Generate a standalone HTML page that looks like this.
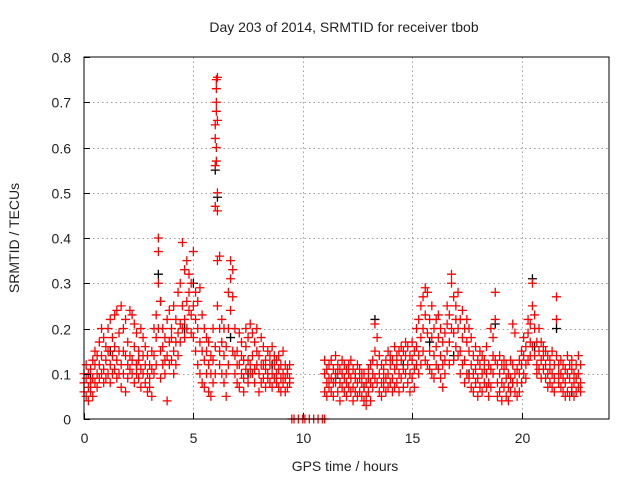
<!DOCTYPE html>
<html><head><meta charset="utf-8"><style>
body{margin:0;background:#fff}
svg{display:block;font-family:"Liberation Sans",sans-serif}
</style></head><body>
<svg id="chart" width="640" height="480" viewBox="0 0 640 480">
<rect width="640" height="480" fill="#fff"/>
<g id="grid"></g>
<g id="marks"></g>
<rect x="84" y="57" width="525" height="362" fill="none" stroke="#000" stroke-width="1"/>
<g id="ticks"></g>
<text x="344" y="32" font-size="14" text-anchor="middle" fill="#222">Day 203 of 2014, SRMTID for receiver tbob</text>
<text x="345" y="471" font-size="14" text-anchor="middle" fill="#222">GPS time / hours</text>
<text x="19" y="238" font-size="14" text-anchor="middle" fill="#222" transform="rotate(-90 19 238)">SRMTID / TECUs</text>
</svg>
<script>
const xTicks=[0,5,10,15,20];
const yTicks=[0,0.1,0.2,0.3,0.4,0.5,0.6,0.7,0.8];
const yTickLabels=["0","0.1","0.2","0.3","0.4","0.5","0.6","0.7","0.8"];
const zeroTimes=[9.5,9.6,9.8,10.0,10.1,10.3,10.5,10.7,10.9,11.0];
const blackTimes=[0.3,1.2,2.4,3.4,3.5,4.6,5.0,6.0,6.1,6.7,7.5,8.6,11.5,12.8,13.3,14.6,15.8,16.9,17.6,18.8,19.6,20.5,20.6,21.6,22.3];
const blackValues=[0.09,0.15,0.12,0.32,0.26,0.2,0.3,0.55,0.49,0.18,0.1,0.12,0.09,0.07,0.22,0.12,0.17,0.14,0.1,0.21,0.08,0.31,0.16,0.2,0.06];
const redTimes=[0.0,0.1,0.2,0.3,0.4,0.5,0.6,0.7,0.8,0.9,1.0,1.1,1.2,1.3,1.4,1.5,1.6,1.7,1.8,1.9,2.0,2.1,2.2,2.3,2.4,2.5,2.6,2.7,2.8,2.9,3.0,3.1,3.2,3.3,3.4,3.5,3.6,3.7,3.8,3.9,4.0,4.1,4.2,4.3,4.4,4.5,4.6,4.7,4.8,4.9,5.0,5.1,5.2,5.3,5.4,5.5,5.6,5.7,5.8,5.9,6.0,6.05,6.1,6.2,6.3,6.4,6.5,6.6,6.7,6.8,6.9,7.0,7.1,7.2,7.3,7.4,7.5,7.6,7.7,7.8,7.9,8.0,8.1,8.2,8.3,8.4,8.5,8.6,8.7,8.8,8.9,9.0,9.1,9.2,9.3,9.4,
11.0,11.1,11.2,11.3,11.4,11.5,11.6,11.7,11.8,11.9,12.0,12.1,12.2,12.3,12.4,12.5,12.6,12.7,12.8,12.9,13.0,13.1,13.2,13.3,13.4,13.5,13.6,13.7,13.8,13.9,14.0,14.1,14.2,14.3,14.4,14.5,14.6,14.7,14.8,14.9,15.0,15.1,15.2,15.3,15.4,15.5,15.6,15.7,15.8,15.9,16.0,16.1,16.2,16.3,16.4,16.5,16.6,16.7,16.8,16.9,17.0,17.1,17.2,17.3,17.4,17.5,17.6,17.7,17.8,17.9,18.0,18.1,18.2,18.3,18.4,18.5,18.6,18.7,18.8,18.9,19.0,19.1,19.2,19.3,19.4,19.5,19.6,19.7,19.8,19.9,20.0,20.1,20.2,20.3,20.4,20.5,20.6,20.7,20.8,20.9,21.0,21.1,21.2,21.3,21.4,21.5,21.6,21.7,21.8,21.9,22.0,22.1,22.2,22.3,22.4,22.5,22.6,22.7];
const redValues=[[.08,.06,.1],[.05,.09,.12],[.04,.1,.07],[.06,.11,.08],[.05,.13,.09],[.08,.15,.12],[.1,.14,.07],[.12,.17,.09],[.14,.2,.1],[.11,.18,.08],[.13,.16,.09],[.1,.15,.2],[.12,.22,.08],[.14,.18,.1],[.16,.23,.11],[.13,.24,.09],[.1,.19,.15],[.12,.25,.07],[.15,.2,.1],[.14,.22,.06],[.09,.17,.12],[.11,.24,.14],[.13,.23,.1],[.16,.21,.08],[.12,.19,.1],[.09,.15,.13],[.11,.2,.07],[.14,.18,.1],[.08,.16,.12],[.1,.14,.06],[.07,.12,.09],[.11,.15,.05],[.14,.2,.1],[.18,.23,.12],[.2,.37,.4,.3],[.15,.26,.09],[.12,.2,.16],[.1,.18,.13],[.14,.22,.04],[.17,.24,.12],[.2,.18,.13],[.15,.25,.1],[.12,.22,.17],[.14,.28,.19],[.17,.3,.21],[.2,.39,.25],[.22,.33,.18],[.26,.35,.2],[.24,.32,.28],[.23,.3,.19],[.25,.37,.18],[.22,.28,.15],[.2,.26,.12],[.17,.29,.1],[.15,.23,.08],[.13,.2,.07],[.15,.18,.1],[.12,.17,.06],[.1,.14,.05],[.13,.2,.08],[.56,.62,.65,.47,.16,.1],[.75,.73,.7,.68,.6,.57],[.755,.66,.5,.46,.35,.25],[.2,.12,.36,.15],[.17,.1,.22],[.14,.08,.2],[.1,.05,.16],[.2,.28,.12],[.31,.35,.24],[.33,.27,.15],[.2,.14,.1],[.15,.08,.12],[.12,.19,.07],[.1,.17,.14],[.13,.09,.06],[.16,.2,.11],[.18,.13,.08],[.12,.21,.1],[.14,.1,.19],[.17,.11,.08],[.2,.12,.15],[.1,.14,.06],[.12,.18,.08],[.09,.16,.12],[.13,.11,.07],[.1,.15,.09],[.14,.12,.08],[.1,.16,.07],[.12,.09,.14],[.08,.13,.1],[.11,.07,.14],[.12,.09,.06],[.1,.15,.08],[.09,.12,.06],[.11,.07,.1],[.08,.12,.09],
[.1,.06,.13],[.08,.11,.05],[.12,.07,.09],[.09,.13,.06],[.11,.05,.08],[.14,.08,.1],[.1,.06,.12],[.08,.11,.04],[.1,.07,.13],[.06,.09,.12],[.08,.11,.05],[.1,.07,.12],[.09,.13,.06],[.07,.11,.04],[.1,.06,.09],[.08,.12,.05],[.06,.09,.11],[.08,.05,.1],[.07,.1,.04],[.05,.08,.03],[.09,.06,.11],[.08,.04,.12],[.13,.07,.1],[.21,.15,.09],[.12,.18,.08],[.1,.14,.06],[.08,.12,.05],[.11,.07,.09],[.13,.09,.06],[.1,.15,.07],[.12,.08,.14],[.09,.13,.06],[.11,.16,.07],[.14,.08,.12],[.1,.15,.06],[.13,.09,.16],[.11,.15,.07],[.14,.1,.17],[.12,.16,.08],[.1,.14,.06],[.13,.17,.09],[.11,.15,.07],[.16,.12,.2],[.14,.22,.1],[.18,.25,.12],[.2,.27,.15],[.23,.29,.13],[.19,.28,.12],[.22,.15,.11],[.18,.1,.25],[.2,.14,.09],[.16,.22,.12],[.18,.11,.23],[.14,.2,.09],[.17,.12,.07],[.19,.13,.1],[.21,.15,.25],[.23,.17,.12],[.3,.32,.2],[.27,.19,.13],[.25,.16,.22],[.28,.2,.14],[.22,.15,.1],[.24,.18,.12],[.2,.13,.08],[.17,.1,.22],[.15,.2,.09],[.12,.18,.07],[.14,.1,.06],[.11,.16,.08],[.09,.13,.05],[.12,.07,.15],[.1,.14,.06],[.13,.08,.11],[.1,.16,.07],[.08,.12,.05],[.2,.11,.07],[.18,.1,.14],[.28,.22,.13],[.12,.08,.05],[.1,.14,.06],[.08,.12,.04],[.11,.07,.13],[.09,.05,.12],[.07,.1,.04],[.09,.13,.06],[.21,.12,.08],[.19,.1,.06],[.08,.11,.05],[.1,.06,.13],[.12,.08,.15],[.14,.1,.18],[.16,.12,.09],[.19,.13,.22],[.21,.14,.17],[.3,.25,.16],[.2,.14,.23],[.17,.12,.1],[.15,.2,.11],[.13,.17,.09],[.16,.11,.14],[.12,.15,.09],[.1,.14,.07],[.13,.08,.11],[.1,.15,.07],[.12,.09,.06],[.27,.22,.14],[.12,.08,.1],[.1,.13,.07],[.12,.06,.09],[.08,.11,.05],[.1,.14,.06],[.09,.12,.05],[.11,.07,.13],[.08,.1,.05],[.12,.06,.09],[.1,.14,.07],[.08,.12,.06]];

const NS="http://www.w3.org/2000/svg";
const X0=84,X1=609,Y0=419,Y1=57,XMAX=24,YMAX=0.8;
function sx(h){return X0+(X1-X0)*h/XMAX;}
function sy(v){return Y0-(Y0-Y1)*v/YMAX;}
const grid=document.getElementById('grid'),ticks=document.getElementById('ticks'),marks=document.getElementById('marks');
function line(g,x1,y1,x2,y2,st,dash){const l=document.createElementNS(NS,'line');l.setAttribute('x1',x1);l.setAttribute('y1',y1);l.setAttribute('x2',x2);l.setAttribute('y2',y2);l.setAttribute('stroke',st);if(dash)l.setAttribute('stroke-dasharray',dash);g.appendChild(l);return l;}
function txt(x,y,s,anchor){const t=document.createElementNS(NS,'text');t.setAttribute('x',x);t.setAttribute('y',y);t.setAttribute('font-size','14');t.setAttribute('fill','#222');t.setAttribute('text-anchor',anchor);t.textContent=s;ticks.appendChild(t);return t;}
yTicks.forEach((v,i)=>{const y=Math.round(sy(v))+0.5;
 if(v>0&&v<YMAX){const g=line(grid,X0,y,X1,y,'#a0a0a0','1.5 3');}
 const t=line(ticks,X0,y,X0+6,y,'#000');
 const l=txt(X0-13,y+5,yTickLabels[i],'end');
 
 });
xTicks.forEach(h=>{const x=Math.round(sx(h))+0.5;
 if(h>0){const g=line(grid,x,Y1,x,Y0,'#a0a0a0','1.5 3');}
 const t=line(ticks,x,Y0,x,Y0-6,'#000');
 const l=txt(x,Y0+24,String(h),'middle');
 
 });
function cross(h,v,col){const x=sx(h),y=sy(v);const p=document.createElementNS(NS,'path');
 p.setAttribute('d',`M${x-4.5} ${y}H${x+4.5}M${x} ${y-4.5}V${y+4.5}`);p.setAttribute('stroke',col);p.setAttribute('stroke-width','1.3');
 
 
 marks.appendChild(p);}
blackTimes.forEach((h,i)=>cross(h,blackValues[i],'#000'));
redTimes.forEach((h,i)=>redValues[i].forEach(v=>cross(h,v,'#ff0000')));
zeroTimes.forEach(h=>cross(h,0,'#ff0000'));
</script>
</body></html>
